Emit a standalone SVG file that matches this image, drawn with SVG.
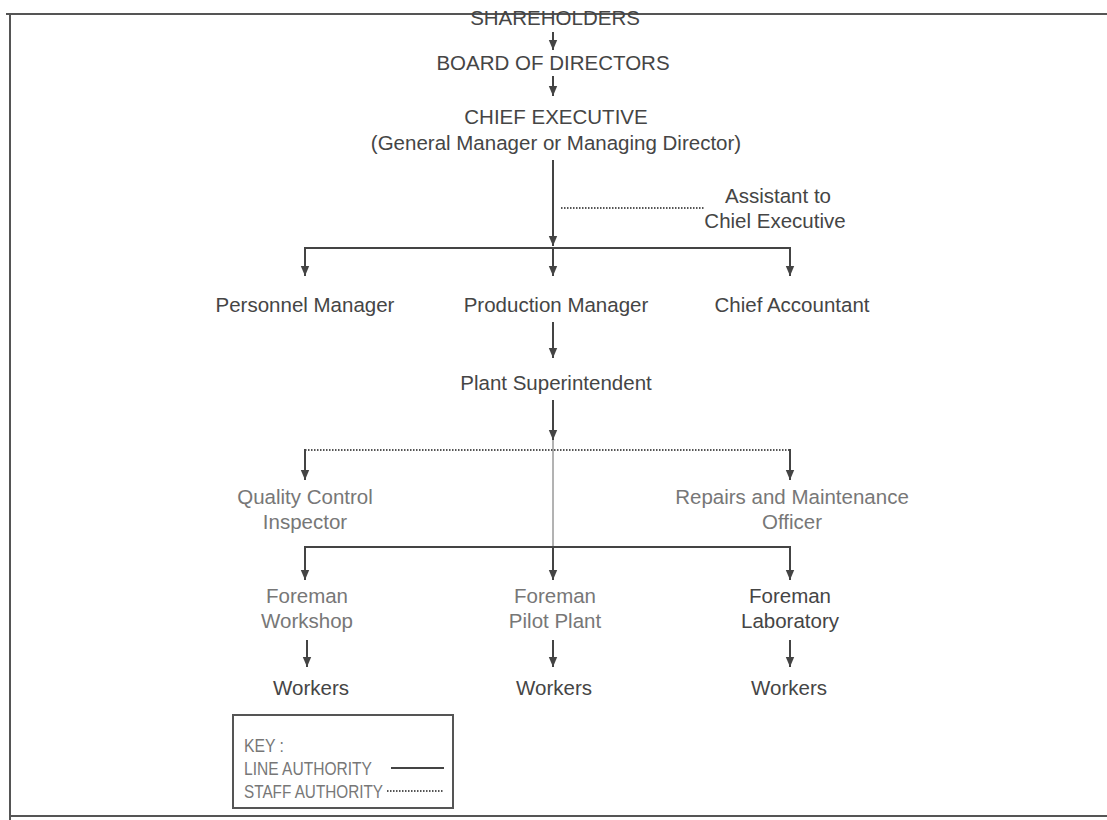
<svg xmlns="http://www.w3.org/2000/svg" width="1107" height="820" viewBox="0 0 1107 820">
<defs>
<marker id="ah" markerWidth="10" markerHeight="10" refX="10" refY="5" orient="auto" markerUnits="userSpaceOnUse" viewBox="0 0 10 10">
<path d="M0,0.8 L10,5 L0,9.2 Z" fill="#444"/>
</marker>
<style>
text{font-family:"Liberation Sans",Arial,sans-serif;font-size:20.5px;fill:#454545;text-anchor:middle}
.lt{fill:#777}
.key{font-size:18px;text-anchor:start;fill:#777}
.line{stroke:#444;stroke-width:2;fill:none}
.thin{stroke:#666;stroke-width:1;fill:none}
.staff{stroke:#555;stroke-width:2;fill:none;stroke-dasharray:1.5 1.5}
.frame{stroke:#555;stroke-width:2;fill:none}
</style>
</defs>
<rect width="1107" height="820" fill="#fff"/>
<g id="frame">
<path class="frame" d="M6,14 L1107,14" stroke-width="2.5"/>
<path class="frame" d="M10,14 L10,820" stroke="#888"/>
<path class="frame" d="M10,816 L1107,816"/>
</g>
<g id="connectors">
<path class="line" d="M553,32 L553,50" marker-end="url(#ah)"/>
<path class="line" d="M553,76 L553,96" marker-end="url(#ah)"/>
<path class="line" d="M553,160 L553,246" marker-end="url(#ah)"/>
<path class="staff" d="M561,208 L705,208"/>
<path class="line" d="M305,248 L790,248"/>
<path class="line" d="M305,247 L305,276" marker-end="url(#ah)"/>
<path class="line" d="M553,248 L553,276" marker-end="url(#ah)"/>
<path class="line" d="M790,247 L790,276" marker-end="url(#ah)"/>
<path class="line" d="M553,322 L553,358" marker-end="url(#ah)"/>
<path class="line" d="M553,400 L553,440" marker-end="url(#ah)"/>
<path class="staff" d="M305,450 L790,450"/>
<path class="line" d="M305,449 L305,480" marker-end="url(#ah)"/>
<path class="line" d="M790,449 L790,480" marker-end="url(#ah)"/>
<path class="thin" d="M553,440 L553,547"/>
<path class="line" d="M305,547 L790,547"/>
<path class="line" d="M305,546 L305,580" marker-end="url(#ah)"/>
<path class="line" d="M553,547 L553,580" marker-end="url(#ah)"/>
<path class="line" d="M790,546 L790,580" marker-end="url(#ah)"/>
<path class="line" d="M307,640 L307,667" marker-end="url(#ah)"/>
<path class="line" d="M553,640 L553,667" marker-end="url(#ah)"/>
<path class="line" d="M790,640 L790,667" marker-end="url(#ah)"/>
</g>
<g id="shareholders"><text x="555" y="25">SHAREHOLDERS</text></g>
<g id="board"><text x="553" y="70">BOARD OF DIRECTORS</text></g>
<g id="chief-executive"><text x="556" y="124">CHIEF EXECUTIVE</text><text x="556" y="150">(General Manager or Managing Director)</text></g>
<g id="assistant"><text x="778" y="203">Assistant to</text><text x="775" y="228">Chiel Executive</text></g>
<g id="personnel"><text x="305" y="312">Personnel Manager</text></g>
<g id="production"><text x="556" y="312">Production Manager</text></g>
<g id="accountant"><text x="792" y="312">Chief Accountant</text></g>
<g id="plant"><text x="556" y="390">Plant Superintendent</text></g>
<g id="quality"><text class="lt" x="305" y="504">Quality Control</text><text class="lt" x="305" y="529">Inspector</text></g>
<g id="repairs"><text class="lt" x="792" y="504">Repairs and Maintenance</text><text class="lt" x="792" y="529">Officer</text></g>
<g id="foreman-workshop"><text class="lt" x="307" y="603">Foreman</text><text class="lt" x="307" y="628" fill="#888">Workshop</text></g>
<g id="foreman-pilot"><text class="lt" x="555" y="603">Foreman</text><text class="lt" x="555" y="628">Pilot Plant</text></g>
<g id="foreman-lab"><text x="790" y="603">Foreman</text><text x="790" y="628">Laboratory</text></g>
<g id="workers-1"><text x="311" y="695">Workers</text></g>
<g id="workers-2"><text x="554" y="695">Workers</text></g>
<g id="workers-3"><text x="789" y="695">Workers</text></g>
<g id="key">
<rect x="233" y="715" width="220" height="93" fill="none" stroke="#555" stroke-width="2"/>
<text class="key" x="244" y="752" textLength="40" lengthAdjust="spacingAndGlyphs">KEY :</text>
<text class="key" x="244" y="775" textLength="128" lengthAdjust="spacingAndGlyphs">LINE AUTHORITY</text>
<text class="key" x="244" y="798" textLength="139" lengthAdjust="spacingAndGlyphs">STAFF AUTHORITY</text>
<path class="line" d="M391,768 L444,768"/>
<path class="staff" d="M387,791 L444,791"/>
</g>
</svg>
